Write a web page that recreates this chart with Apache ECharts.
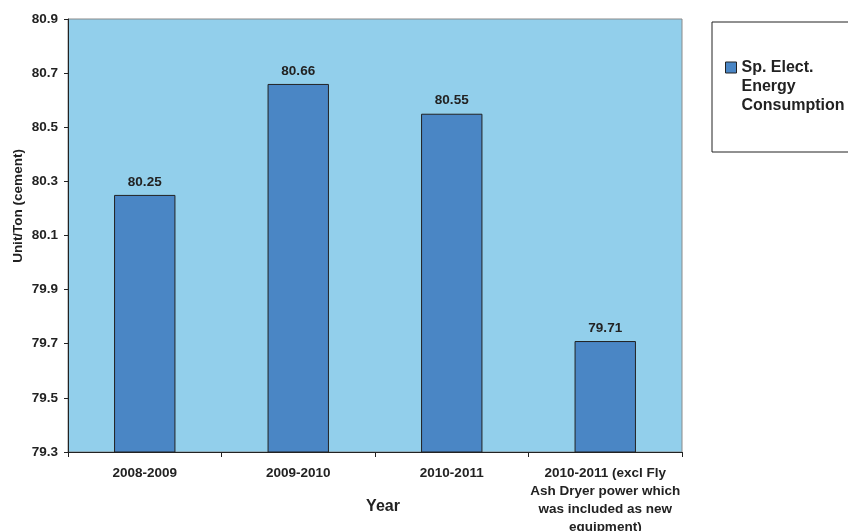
<!DOCTYPE html>
<html>
<head>
<meta charset="utf-8">
<script src="https://cdn.jsdelivr.net/npm/echarts@6/dist/echarts.min.js"></script>
<style>html,body{margin:0;padding:0;background:#fff;}#c{width:848px;height:531px;}</style>
</head>
<body>
<div id="c"></div>
<script>
const categories = ["2008-2009", "2009-2010", "2010-2011", "2010-2011 (excl Fly\nAsh Dryer power which\nwas included as new\nequipment)"];
const values = [80.25, 80.66, 80.55, 79.71];
const seriesName = "Sp. Elect.\nEnergy\nConsumption";
const yMin = 79.3, yMax = 80.9, yStep = 0.2;

const FONT = "Liberation Sans, Arial, sans-serif";
const FS = 13.5;
const chart = echarts.init(document.getElementById('c'));
chart.setOption({
  animation: false,
  textStyle: { fontFamily: FONT },
  grid: { left: 68, top: 19, width: 614, height: 433, outerBoundsMode: 'none', containLabel: false, show: true, backgroundColor: '#92cfeb', borderColor: '#8a8a8a', borderWidth: 1 },
  graphic: [
    { type: 'rect', x: 712, y: 22, shape: { width: 200, height: 130 }, style: { fill: '#fff', stroke: '#222', lineWidth: 1 }, z: -1 },
    { type: 'text', x: 18, y: 206, rotation: Math.PI / 2, style: { text: 'Unit/Ton (cement)', font: 'bold ' + FS + 'px ' + FONT, fill: '#222', align: 'center', verticalAlign: 'middle' } },
    { type: 'text', x: 383, y: 507, style: { text: 'Year', font: 'bold 16px ' + FONT, fill: '#222', align: 'center', verticalAlign: 'middle' } }
  ],
  legend: {
    left: 725, top: 20, padding: 0,
    itemWidth: 11, itemHeight: 11, itemGap: 0,
    icon: 'rect',
    formatter: name => '\n\n' + name,
    textStyle: { fontFamily: FONT, fontWeight: 'bold', fontSize: 16, color: '#222', lineHeight: 19 },
    data: [{ name: seriesName, itemStyle: { borderColor: '#222', borderWidth: 1 } }]
  },
  xAxis: {
    type: 'category', data: categories,
    axisLine: { lineStyle: { color: '#222' } },
    axisTick: { show: true, length: 5, lineStyle: { color: '#222' } },
    axisLabel: { interval: 0, color: '#222', fontWeight: 'bold', fontSize: FS, lineHeight: 18, margin: 12, fontFamily: FONT }
  },
  yAxis: {
    type: 'value', min: yMin, max: yMax, interval: yStep,
    axisLine: { show: true, lineStyle: { color: '#222' } },
    axisTick: { show: true, length: 4, lineStyle: { color: '#222' } },
    splitLine: { show: false },
    axisLabel: { color: '#222', fontWeight: 'bold', fontSize: FS, margin: 10, fontFamily: FONT, formatter: v => v.toFixed(1) }
  },
  series: [{
    name: seriesName, type: 'bar', data: values, barWidth: '40%',
    itemStyle: { color: '#4a86c5', borderColor: '#222', borderWidth: 1 },
    label: { show: true, position: 'top', distance: 6, color: '#222', fontWeight: 'bold', fontSize: FS, fontFamily: FONT, formatter: p => p.value.toFixed(2) }
  }]
});
</script>
</body>
</html>
